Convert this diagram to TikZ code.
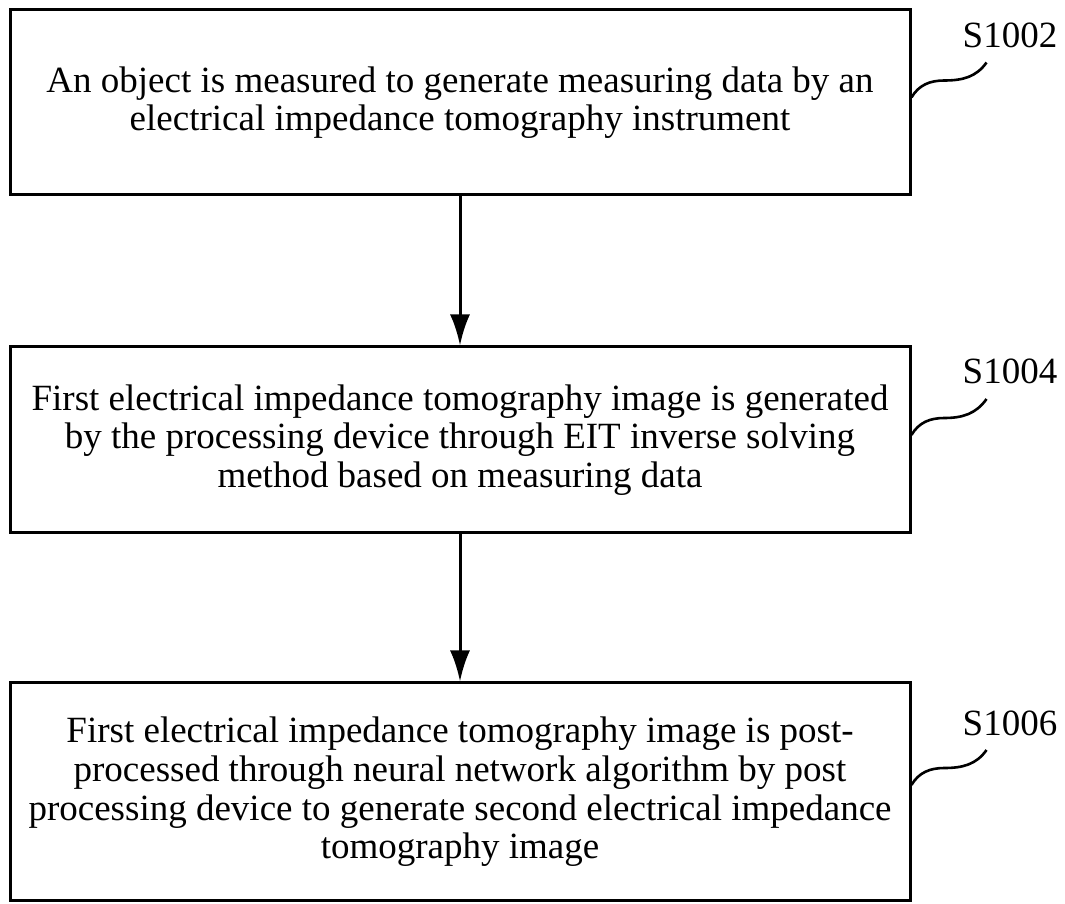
\documentclass[tikz,border=0pt]{standalone}
\usepackage{fontspec}
\setmainfont{Liberation Serif}
\usetikzlibrary{arrows.meta,positioning,calc}

\begin{document}
\begin{tikzpicture}
    [x=0.5pt,y=0.5pt,>={Latex[length=15.5pt,width=10pt]},
     stepbox/.style={draw,line width=1.5pt,inner sep=0pt,minimum width=450pt,
        align=center,font=\fontsize{18.5}{19.3}\selectfont},
     tag/.style={inner sep=0pt,font=\fontsize{18.5}{19.3}\selectfont},
     tilde/.style={line width=1.3pt},
     flow/.style={line width=1.5pt,->}]

    \fill[white] (0,0) rectangle (1065,904);
    \useasboundingbox (0,0) rectangle (1065,904);

    \node[stepbox,minimum height=92.5pt] (measure) at (460,801.5)
        {An object is measured to generate measuring data by an\\
         electrical impedance tomography instrument};
    \node[stepbox,minimum height=93pt] (inverse) at (460,464)
        {First electrical impedance tomography image is generated\\
         by the processing device through EIT inverse solving\\
         method based on measuring data};
    \node[stepbox,minimum height=109pt] (postproc) at (460,112)
        {First electrical impedance tomography image is post-\\
         processed through neural network algorithm by post\\
         processing device to generate second electrical impedance\\
         tomography image};

    \node[tag] (s1002) at (1010,869) {S1002};
    \node[tag] (s1004) at (1010,533) {S1004};
    \node[tag] (s1006) at (1010,181) {S1006};

    \draw[flow] (measure) -- (inverse);
    \draw[flow] (inverse) -- (postproc);

    \draw[tilde] ([yshift=2.5pt]measure.east) to[out=60,in=180] ++(33,17) to[out=0,in=235] ++(42,18);
    \draw[tilde] ([yshift=2.5pt]inverse.east) to[out=60,in=180] ++(33,17) to[out=0,in=235] ++(42,19);
    \draw[tilde] ([yshift=3.5pt]postproc.east) to[out=60,in=180] ++(33,17) to[out=0,in=235] ++(42,18);

\end{tikzpicture}
\end{document}
